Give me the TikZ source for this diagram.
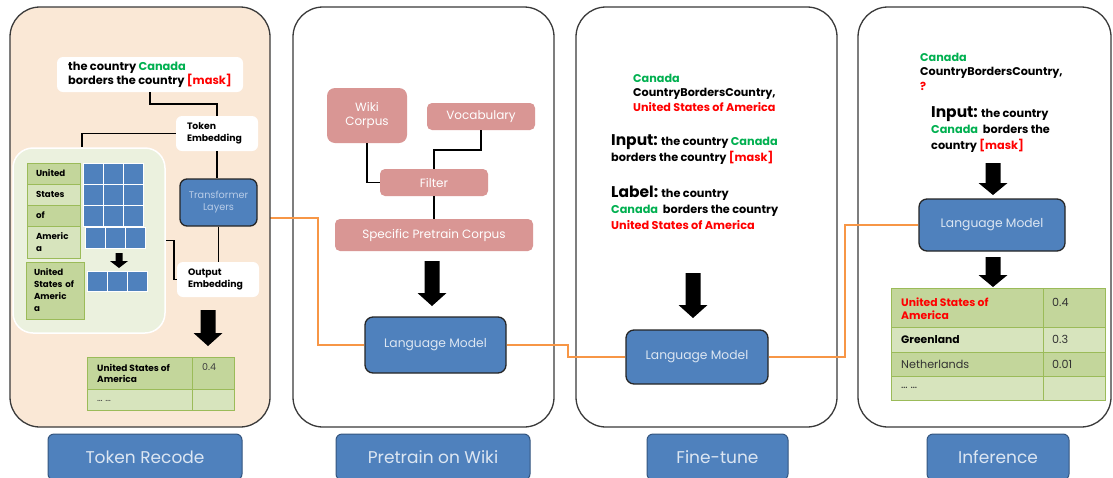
\documentclass[tikz,border=0pt]{standalone}
\usepackage{fontspec}
\setmainfont{Poppins}
\definecolor{peach}{HTML}{FAE8D6}
\definecolor{panelline}{HTML}{3A3A3A}
\definecolor{lmblue}{HTML}{4F81BD}
\definecolor{lmline}{HTML}{262626}
\definecolor{lblline}{HTML}{34557F}
\definecolor{lmtext}{HTML}{DCE6F2}
\definecolor{trtext}{HTML}{B9CDE8}
\definecolor{pink}{HTML}{D99694}
\definecolor{cgreen}{HTML}{00B050}
\definecolor{cred}{HTML}{FF0000}
\definecolor{orangeline}{HTML}{F79646}
\definecolor{softgreen}{HTML}{EBF1DE}
\definecolor{gdark}{HTML}{C3D69B}
\definecolor{glight}{HTML}{D7E4BD}
\definecolor{gline}{HTML}{9BBB59}
\newcommand\fsz[2]{\fontsize{#1}{#2}\selectfont}
\newcommand\blockarrow[6]{% x, top, head start, tip, shaft half, head half
  \fill[black] (#1-#5,#2) -- (#1+#5,#2) -- (#1+#5,#3) -- (#1+#6,#3) -- (#1,#4)
    -- (#1-#6,#3) -- (#1-#5,#3) -- cycle;}
\begin{document}
\begin{tikzpicture}[x=1pt,y=-1pt,
  panel/.style={draw=panelline, line width=1.3pt, rounded corners=30pt, inner sep=0pt},
  lbl/.style={fill=lmblue, draw=lblline, line width=1pt, rounded corners=6pt, text=lmtext, font=\fsz{17}{20}, inner sep=0pt},
  lmbox/.style={fill=lmblue, draw=lmline, line width=1.3pt, rounded corners=8pt, text=lmtext, font=\fsz{12.3}{14}, inner sep=0pt},
  pinkbox/.style={fill=pink, rounded corners=5pt, text=white, font=\fsz{12}{14.5}, inner sep=0pt, align=center},
  whitebox/.style={fill=white, rounded corners=6pt, inner sep=0pt, align=left},
  conn/.style={draw=black, line width=1.8pt},
  oconn/.style={draw=orangeline, line width=2pt},
  wcell/.style={draw=gline, line width=0.6pt, inner sep=0pt, align=left, font=\fsz{8.7}{12}\bfseries},
  sq/.style={fill=lmblue, draw=white, line width=1pt},
  tcell/.style={draw=gline, line width=0.8pt},
]
\useasboundingbox (0,0) rectangle (1113,477);
\fill[white] (0,0) rectangle (1113,477);

% ---------- panels 2-4
\node[panel, fill=white, minimum width=261, minimum height=420] (p2) at (423.5,217) {};
\node[panel, fill=white, minimum width=261, minimum height=420] (p3) at (706.5,217) {};
\node[panel, fill=white, minimum width=253, minimum height=420] (p4) at (984.5,217) {};

% ---------- bottom labels
\node[lbl, minimum width=194, minimum height=46] (l1) at (145,457) {Token Recode};
\node[lbl, minimum width=194, minimum height=46] (l2) at (433,457) {Pretrain on Wiki};
\node[lbl, minimum width=141, minimum height=46] (l3) at (717.5,457) {Fine-tune};
\node[lbl, minimum width=142, minimum height=46] (l4) at (998,457) {Inference};

% ---------- panel 2 content
\node[pinkbox, minimum width=80, minimum height=55, rounded corners=8pt] (wiki) at (367,115.5) {Wiki\\Corpus};
\node[pinkbox, minimum width=108, minimum height=27] (vocab) at (481,116.5) {Vocabulary};
\node[pinkbox, minimum width=108, minimum height=27] (filter) at (434,182.5) {Filter};
\node[pinkbox, minimum width=198, minimum height=32] (spc) at (434,235) {Specific Pretrain Corpus};
\draw[conn] (wiki.south) |- (filter.west);
\draw[conn] (vocab.south) -- ++(0,20) -| (filter.north);
\draw[conn] (filter.south) -- (spc.north);
\blockarrow{432}{261}{293}{306}{7.5}{14.5}
\node[lmbox, minimum width=141, minimum height=56] (lm2) at (435.5,345) {Language Model};

% ---------- panel 3 content
\node[anchor=west, align=left, font=\fsz{11.2}{14.5}\bfseries, inner sep=0pt] (fthead) at (633,92.5)
  {\textcolor{cgreen}{Canada}\\CountryBordersCountry,\\\textcolor{cred}{United States of America}};
\node[anchor=west, align=left, font=\fsz{11.3}{16}\bfseries, inner sep=0pt] (ftin) at (611,150)
  {{\fsz{15.5}{16}Input:} the country \textcolor{cgreen}{Canada}\\borders the country \textcolor{cred}{[mask]}};
\node[anchor=west, align=left, font=\fsz{11.3}{16}\bfseries, inner sep=0pt] (ftlab) at (611,208)
  {{\fsz{15.5}{16}Label:} the country\\\textcolor{cgreen}{Canada}\ \ borders the country\\\textcolor{cred}{United States of America}};
\blockarrow{693}{273}{305}{318}{7.5}{14.5}
\node[lmbox, minimum width=142, minimum height=54] (lm3) at (697,357) {Language Model};

% ---------- panel 4 content
\node[anchor=west, align=left, font=\fsz{11.2}{14.5}\bfseries, inner sep=0pt] (infhead) at (920,71.5)
  {\textcolor{cgreen}{Canada}\\CountryBordersCountry,\\\textcolor{cred}{?}};
\node[anchor=west, align=left, font=\fsz{11.3}{16}\bfseries, inner sep=0pt] (infin) at (931,130)
  {{\fsz{15.5}{16}Input:} the country\\\textcolor{cgreen}{Canada}\ \ borders the\\country \textcolor{cred}{[mask]}};
\blockarrow{993}{163}{183}{195}{7.5}{14.5}
\node[lmbox, minimum width=146, minimum height=52] (lm4) at (992,225) {Language Model};
\blockarrow{993}{257}{275}{287}{7.5}{14.5}
% table
\filldraw[tcell, fill=gdark] (891,288) rectangle (1043,327);
\filldraw[tcell, fill=gdark] (1043,288) rectangle (1105,327);
\filldraw[tcell, fill=glight] (891,327) rectangle (1043,352);
\filldraw[tcell, fill=glight] (1043,327) rectangle (1105,352);
\filldraw[tcell, fill=gdark] (891,352) rectangle (1043,376);
\filldraw[tcell, fill=gdark] (1043,352) rectangle (1105,376);
\filldraw[tcell, fill=glight] (891,376) rectangle (1043,400);
\filldraw[tcell, fill=glight] (1043,376) rectangle (1105,400);
\node[anchor=west, align=left, inner sep=0pt, font=\fsz{10.8}{13.5}\bfseries, text=cred] (t41) at (901,308.5) {United States of\\America};
\node[anchor=west, inner sep=0pt, font=\fsz{11.2}{13}, text=black!80] (t42) at (1052,302) {0.4};
\node[anchor=west, inner sep=0pt, font=\fsz{10.8}{13}\bfseries] (t43) at (901,339.5) {Greenland};
\node[anchor=west, inner sep=0pt, font=\fsz{11.2}{13}, text=black!80] (t44) at (1052,339.5) {0.3};
\node[anchor=west, inner sep=0pt, font=\fsz{11.2}{13}, text=black!80] (t45) at (901,364) {Netherlands};
\node[anchor=west, inner sep=0pt, font=\fsz{11.2}{13}, text=black!80] (t46) at (1052,364) {0.01};
\node[anchor=west, inner sep=0pt, font=\fsz{11.2}{13}, text=black!80] (t47) at (901,388) {\dots\ \dots};

% ---------- orange connectors
\coordinate (o1) at (268,218);
\draw[oconn] (o1) -- ++(50,0) |- (lm2.west);
\draw[oconn] (lm2.east) -- ++(61,0) |- (lm3.west);
\draw[oconn] (lm3.east) -- ++(76,0) |- (lm4.west);

% ---------- panel 1
\node[panel, fill=peach, minimum width=260, minimum height=420] (p1) at (140,217) {};
\node[fill=softgreen, draw=white, line width=1.5pt, rounded corners=20pt, minimum width=152, minimum height=185, inner sep=0pt] (gp) at (89,240.5) {};
\node[whitebox, minimum width=186, minimum height=35, font=\fsz{11.4}{14}\bfseries] (sent) at (150,74.5)
  {the country \textcolor{cgreen}{Canada}\\borders the country \textcolor{cred}{[mask]}};
\node[whitebox, minimum width=82, minimum height=35, text width=60, font=\fsz{9.3}{11.5}\bfseries] (temb) at (217,133.5) {Token\\Embedding};
\node[lmbox, minimum width=77, minimum height=47, align=center, text=trtext, font=\fsz{9.7}{12}, rounded corners=7pt] (trans) at (218.5,202.5) {Transformer\\Layers};
\node[whitebox, minimum width=82, minimum height=35, text width=60, font=\fsz{9.3}{11.5}\bfseries] (oemb) at (218,279.5) {Output\\Embedding};
\draw[conn] (sent.south) -- ++(0,12) -| (temb.north);
\draw[conn] (temb.west) -| ([xshift=-7pt]gp.north);
\draw[conn] (temb.south) -- (temb.south |- trans.north);
\draw[conn] (trans.south) -- (trans.south |- oemb.north);
\draw[conn] (gp.east) -- ++(8,0) |- (oemb.west);
% word cells
\node[wcell, fill=gdark, minimum width=53, minimum height=21, text width=35] (w1) at (53.5,173.5) {United};
\node[wcell, fill=glight, minimum width=53, minimum height=21, text width=35] (w2) at (53.5,194.5) {States};
\node[wcell, fill=gdark, minimum width=53, minimum height=21, text width=35] (w3) at (53.5,215.5) {of};
\node[wcell, fill=glight, minimum width=53, minimum height=32, text width=35] (w4) at (53.5,242) {Americ\\a};
\node[wcell, fill=gdark, minimum width=58, minimum height=57, text width=42] (w5) at (55,290.5) {United\\States of\\Americ\\a};
% embedding squares
\foreach \yy in {163,184,205} {
  \foreach \k in {0,1,2} { \path[sq] (83+20*\k,\yy) rectangle ++(20,21); }
}
\foreach \k in {0,1,2} { \path[sq] (85+20*\k,227) rectangle ++(20,21); }
\foreach \k in {0,1,2} { \path[sq] (87+20*\k,271) rectangle ++(20,20); }
\blockarrow{119}{253}{261}{268}{3.5}{9}
\blockarrow{208}{310}{333}{346}{7.5}{14.5}
% output table
\filldraw[tcell, fill=gdark] (87,357) rectangle (192,389);
\filldraw[tcell, fill=gdark] (192,357) rectangle (234,389);
\filldraw[tcell, fill=glight] (87,389) rectangle (192,410);
\filldraw[tcell, fill=glight] (192,389) rectangle (234,410);
\node[anchor=west, align=left, inner sep=0pt, font=\fsz{9}{11.5}\bfseries] (t11) at (97,373.5) {United States of\\America};
\node[anchor=west, inner sep=0pt, font=\fsz{9.5}{11.5}, text=black!75] (t12) at (202,367) {0.4};
\node[anchor=west, inner sep=0pt, font=\fsz{9.5}{11.5}, text=black!75] (t13) at (97,401) {\dots\ \dots};
\end{tikzpicture}
\end{document}
